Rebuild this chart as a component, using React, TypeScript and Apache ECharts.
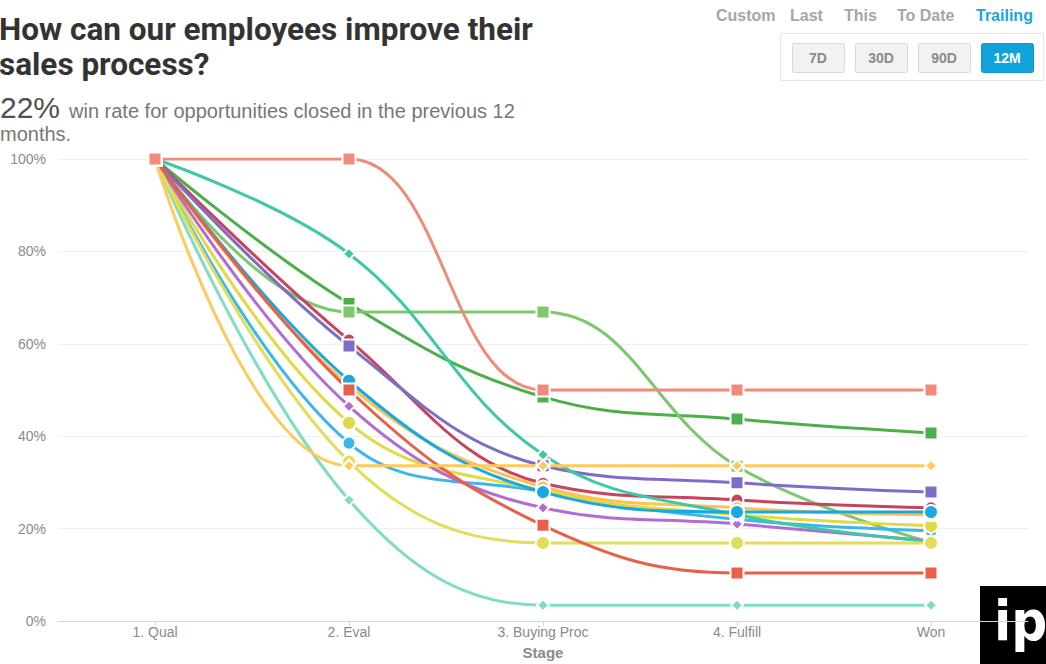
import React, { useEffect, useRef } from "react";
import * as echarts from "echarts";

const stages = ["1. Qual", "2. Eval", "3. Buying Proc", "4. Fulfill", "Won"];
const yTicks = [0, 20, 40, 60, 80, 100];

const salmon = [100, 100, 50, 50, 50];
const teal = [100, 79.5, 36, 23, 17.2];
const green = [100, 68.7, 48.5, 43.7, 40.7];
const lightGreen = [100, 66.9, 66.9, 33.5, 17];
const orange = [100, 33.6, 33.6, 33.6, 33.6];
const purple = [100, 59.5, 33.6, 29.9, 27.9];
const crimson = [100, 60.8, 29.8, 26.2, 24.5];
const blue = [100, 52, 27.9, 23.6, 23.6];
const orange2 = [100, 51, 29, 24.5, 23];
const redOrange = [100, 50, 20.7, 10.4, 10.4];
const violet = [100, 46.5, 24.5, 21, 17.3];
const yellow = [100, 42.9, 28.2, 23, 20.6];
const lightBlue = [100, 38.5, 28, 22, 19.5];
const mint = [100, 26.2, 3.4, 3.4, 3.4];
const lightYellow = [100, 34.5, 16.9, 16.9, 16.9];

const menuItems = ["Custom", "Last", "This", "To Date", "Trailing"];
const buttons = ["7D", "30D", "90D", "12M"];

type S = { name: string; data: number[]; color: string; symbol: string; size: number };

const seriesList: S[] = [
  { name: "green", data: green, color: "#4DAF4A", symbol: "rect", size: 13 },
  { name: "lightGreen", data: lightGreen, color: "#7DC76C", symbol: "rect", size: 13 },
  { name: "crimson", data: crimson, color: "#C9435D", symbol: "circle", size: 13 },
  { name: "purple", data: purple, color: "#7E6DC7", symbol: "rect", size: 13 },
  { name: "lightBlue", data: lightBlue, color: "#3AB7EB", symbol: "circle", size: 13 },
  { name: "yellow", data: yellow, color: "#DFDA46", symbol: "circle", size: 14 },
  { name: "orange2", data: orange2, color: "#FFC250", symbol: "circle", size: 13 },
  { name: "violet", data: violet, color: "#B46BD3", symbol: "diamond", size: 12 },
  { name: "mint", data: mint, color: "#7EDDC3", symbol: "diamond", size: 12 },
  { name: "teal", data: teal, color: "#3EC8A6", symbol: "diamond", size: 12 },
  { name: "lightYellow", data: lightYellow, color: "#E2DD5A", symbol: "circle", size: 14 },
  { name: "blue", data: blue, color: "#19A9E1", symbol: "circle", size: 14 },
  { name: "redOrange", data: redOrange, color: "#E8604A", symbol: "rect", size: 13 },
  { name: "orange", data: orange, color: "#FFC95C", symbol: "diamond", size: 12 },
  { name: "salmon", data: salmon, color: "#F08A7A", symbol: "rect", size: 13 },
];

export default function App() {
  const ref = useRef<HTMLDivElement>(null);
  useEffect(() => {
    if (!ref.current) return;
    const chart = echarts.init(ref.current, undefined, { renderer: "svg" });

    const menuX = [716, 790, 844, 897, 976];
    const graphics: any[] = [
      {
        type: "text",
        left: -1,
        top: 12,
        style: {
          text: "How can our employees improve their\nsales process?",
          font: "bold 31.5px Roboto",
          fill: "#333",
          lineHeight: 35,
        },
      },
      {
        type: "text",
        left: 0,
        top: 92,
        style: { text: "22%", font: "30px 'Liberation Sans'", fill: "#505050" },
      },
      {
        type: "text",
        left: 69,
        top: 101,
        style: {
          text: "win rate for opportunities closed in the previous 12",
          font: "20px 'Liberation Sans'",
          fill: "#777",
        },
      },
      {
        type: "text",
        left: 0,
        top: 124,
        style: { text: "months.", font: "20px 'Liberation Sans'", fill: "#777" },
      },
      {
        type: "rect",
        shape: { x: 780.5, y: 33.5, width: 263, height: 47 },
        style: { fill: "#fff", stroke: "#e6e6e6", lineWidth: 1 },
      },
      {
        type: "rect",
        shape: { x: 980, y: 586, width: 66, height: 78 },
        style: { fill: "#000" },
      },
      {
        type: "text",
        x: 994,
        y: 592,
        style: { text: "ip", font: "bold 56px 'DejaVu Sans Condensed', 'DejaVu Sans'", fill: "#fff" },
      },
    ];
    menuItems.forEach((m, i) => {
      graphics.push({
        type: "text",
        x: menuX[i],
        y: 7,
        style: {
          text: m,
          font: "bold 16px 'Liberation Sans'",
          fill: m === "Trailing" ? "#1BA6DE" : "#A6A6A6",
        },
      });
    });
    buttons.forEach((b, i) => {
      const x = 792 + i * 63;
      const active = b === "12M";
      graphics.push({
        type: "rect",
        shape: { x: x + 0.5, y: 43.5, width: 52, height: 29, r: 2 },
        style: {
          fill: active ? "#0FA3DA" : "#F2F2F2",
          stroke: active ? "#0C98CC" : "#D8D8D8",
          lineWidth: 1,
        },
      });
      graphics.push({
        type: "text",
        x: x + 26,
        y: 58,
        style: {
          text: b,
          font: "bold 14px 'Liberation Sans'",
          fill: active ? "#fff" : "#8A8A8A",
          align: "center",
          verticalAlign: "middle",
        },
      });
    });

    chart.setOption({
      animation: false,
      backgroundColor: "#fff",
      grid: { left: 58, right: 18, top: 159, bottom: 43, containLabel: false, outerBoundsMode: "none" },
      xAxis: {
        type: "category",
        data: stages,
        boundaryGap: true,
        name: "Stage",
        nameLocation: "middle",
        nameGap: 24,
        nameTextStyle: { color: "#8A8A8A", fontSize: 15, fontWeight: "bold", fontFamily: "Liberation Sans" },
        axisLine: { lineStyle: { color: "#D6D6D6", width: 1 } },
        axisTick: { show: true, alignWithLabel: true, length: 5, lineStyle: { color: "#D6D6D6" } },
        axisLabel: { color: "#8A8A8A", fontSize: 14, fontFamily: "Liberation Sans", margin: 4 },
        splitLine: { show: false },
      },
      yAxis: {
        type: "value",
        min: yTicks[0],
        max: yTicks[yTicks.length - 1],
        interval: 20,
        axisLine: { show: false },
        axisTick: { show: false },
        axisLabel: {
          color: "#8A8A8A",
          fontSize: 14,
          fontFamily: "Liberation Sans",
          margin: 12,
          formatter: "{value}%",
          padding: [4, 0, 0, 0],
        },
        splitLine: { lineStyle: { color: "#EFEFEF", width: 1 } },
      },
      series: seriesList.map((s) => ({
        name: s.name,
        type: "line",
        data: s.data,
        smooth: 0.4,
        symbol: s.symbol,
        symbolSize: s.size,
        showAllSymbol: true,
        lineStyle: { color: s.color, width: 3 },
        itemStyle: { color: s.color, borderColor: "#fff", borderWidth: 2 },
        emphasis: { disabled: true },
      })),
      graphic: graphics,
    });
    return () => chart.dispose();
  }, []);
  return (
    <div
      ref={ref}
      style={{ position: "fixed", left: 0, top: 0, width: 1046, height: 664 }}
    />
  );
}
